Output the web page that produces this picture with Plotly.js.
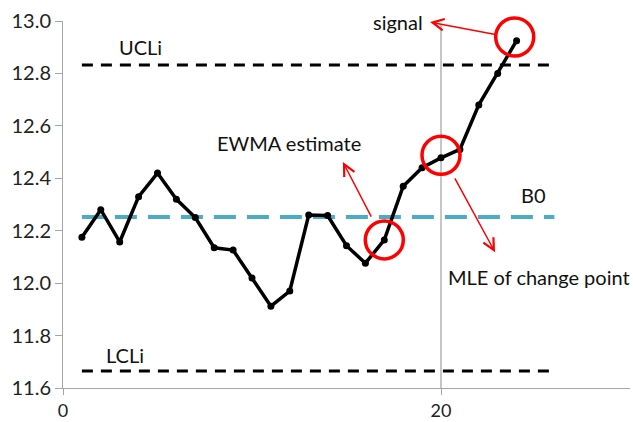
<!DOCTYPE html>
<html>
<head>
<meta charset="utf-8">
<script src="https://cdn.plot.ly/plotly-3.0.1.min.js"></script>
<style>html,body{margin:0;padding:0;background:#fff;}#chart{width:633px;height:422px;}</style>
</head>
<body>
<div id="chart"></div>
<script>
// Data
var samples = [1,2,3,4,5,6,7,8,9,10,11,12,13,14,15,16,17,18,19,20,21,22,23,24];
var ewma = [12.175,12.28,12.157,12.33,12.42,12.32,12.25,12.135,12.126,12.02,11.912,11.97,12.26,12.258,12.143,12.076,12.165,12.37,12.44,12.478,12.51,12.68,12.80,12.925];
var limitX = [1, 26];
var ucl = [12.832, 12.832];
var lcl = [11.665, 11.665];
var b0 = [12.252, 12.252];
var xTicks = [0, 20];
var yTicks = [11.6, 11.8, 12.0, 12.2, 12.4, 12.6, 12.8, 13.0];
var labelText = ["UCLi", "LCLi", "B0", "EWMA estimate", "signal", "MLE of change point"];
var labelX = [4.1, 3.3, 24.9, 11.96, 17.7, 25.2];
var labelY = [12.90, 11.725, 12.336, 12.534, 12.998, 12.023];
var circleIdx = [23, 19, 16]; // signal, MLE, EWMA estimate points
var circleDX = [-0.1, 0, 0];
var circleDY = [0.014, 0.01, 0];
var arrowHeadX = [19.42, 22.86, 14.81];
var arrowHeadY = [12.996, 12.118, 12.462];
var arrowTailX = [22.96, 20.69, 16.35];
var arrowTailY = [12.947, 12.405, 12.248];
var changePoint = 20;

var font = "Lato, 'Open Sans', sans-serif";

var traces = [
  {x: limitX, y: ucl, mode: 'lines', line: {color: '#000', width: 3, dash: '11px,8px'}, hoverinfo: 'skip'},
  {x: limitX, y: lcl, mode: 'lines', line: {color: '#000', width: 3, dash: '11px,8px'}, hoverinfo: 'skip'},
  {x: limitX, y: b0, mode: 'lines', line: {color: '#4bacc6', width: 4, dash: '22px,11px'}, hoverinfo: 'skip'},
  {x: samples, y: ewma, mode: 'lines+markers', line: {color: '#000', width: 3.5}, marker: {color: '#000', size: 7}},
  {x: circleIdx.map(function(i, k){return samples[i] + circleDX[k];}),
   y: circleIdx.map(function(i, k){return ewma[i] + circleDY[k];}),
   mode: 'markers', cliponaxis: false, hoverinfo: 'skip',
   marker: {symbol: 'circle-open', size: 38, color: '#ff0000', line: {color: '#ff0000', width: 3.5}}}
];

var shapes = [
  {type: 'line', xref: 'x', yref: 'y', x0: changePoint, x1: changePoint, y0: 11.6, y1: 12.985, line: {color: '#a0a0a0', width: 1.2}, layer: 'below'}
];

var annotations = [];
labelText.forEach(function(t, i){
  annotations.push({x: labelX[i], y: labelY[i], xref: 'x', yref: 'y', text: t, showarrow: false,
    font: {family: font, size: 20, color: '#111'}});
});
arrowHeadX.forEach(function(hx, i){
  annotations.push({x: hx, y: arrowHeadY[i], ax: arrowTailX[i], ay: arrowTailY[i],
    xref: 'x', yref: 'y', axref: 'x', ayref: 'y', text: '', showarrow: true,
    arrowhead: 5, arrowsize: 1.5, arrowwidth: 1.5, arrowcolor: '#ff0000'});
});

var layout = {
  width: 633, height: 422,
  margin: {l: 63, r: 3, t: 21, b: 34},
  paper_bgcolor: '#fff', plot_bgcolor: '#fff',
  showlegend: false,
  font: {family: font, size: 20, color: '#222'},
  xaxis: {range: [0, 30], tickvals: xTicks, ticktext: xTicks.map(String), showgrid: false, zeroline: false,
    showline: true, linecolor: '#a6a6a6', linewidth: 1, ticks: 'outside', ticklen: 6, tickcolor: '#a6a6a6',
    ticklabelstandoff: 0, tickfont: {family: font, size: 18, color: '#222'}},
  yaxis: {range: [11.6, 13.0], tickvals: yTicks, ticktext: yTicks.map(function(v){return v.toFixed(1);}),
    showgrid: false, zeroline: false, showline: true, linecolor: '#a6a6a6', linewidth: 1,
    ticks: 'outside', ticklen: 7, tickcolor: '#a6a6a6', tickfont: {family: font, size: 20, color: '#222'}},
  shapes: shapes,
  annotations: annotations
};

Plotly.newPlot('chart', traces, layout, {staticPlot: true, displayModeBar: false});
</script>
</body>
</html>
